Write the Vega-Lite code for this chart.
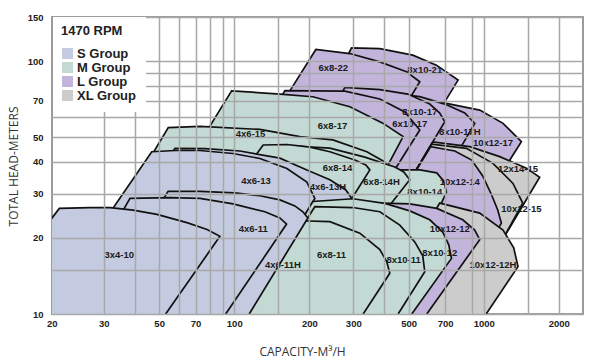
{
  "$schema": "https://vega.github.io/schema/vega-lite/v6.json",
  "width": 531,
  "height": 297,
  "autosize": {"type": "none"},
  "padding": {"left": 52, "top": 17, "right": 17, "bottom": 48},
  "background": "white",
  "config": {
    "view": {"stroke": "#9b9b9b", "strokeWidth": 2},
    "font": "Liberation Sans"
  },
  "datasets": {
    "shapes": [
      {"s":"8x10-21","g":"L Group","q":63.4,"h":10},{"s":"8x10-21","g":"L Group","q":288.0,"h":107.8},{"s":"8x10-21","g":"L Group","q":295.2,"h":113.2},{"s":"8x10-21","g":"L Group","q":383.3,"h":112.5},{"s":"8x10-21","g":"L Group","q":519.5,"h":105.9},{"s":"8x10-21","g":"L Group","q":646.5,"h":96.7},{"s":"8x10-21","g":"L Group","q":789.2,"h":84.4},{"s":"8x10-21","g":"L Group","q":698.0,"h":69.2},{"s":"8x10-21","g":"L Group","q":209.9,"h":10},
      {"s":"6x8-22","g":"L Group","q":45.8,"h":10},{"s":"6x8-22","g":"L Group","q":167.1,"h":76.5},{"s":"6x8-22","g":"L Group","q":212.4,"h":111.5},{"s":"6x8-22","g":"L Group","q":290.6,"h":107.5},{"s":"6x8-22","g":"L Group","q":383.3,"h":99.6},{"s":"6x8-22","g":"L Group","q":490.2,"h":91.0},{"s":"6x8-22","g":"L Group","q":554.2,"h":83.1},{"s":"6x8-22","g":"L Group","q":519.5,"h":74.7},{"s":"6x8-22","g":"L Group","q":152.9,"h":10},
      {"s":"10x12-17","g":"L Group","q":178.3,"h":10},{"s":"10x12-17","g":"L Group","q":580.3,"h":69.7},{"s":"10x12-17","g":"L Group","q":709.0,"h":68.2},{"s":"10x12-17","g":"L Group","q":963.9,"h":64.2},{"s":"10x12-17","g":"L Group","q":1195,"h":56.9},{"s":"10x12-17","g":"L Group","q":1416,"h":48.1},{"s":"10x12-17","g":"L Group","q":1310,"h":42.6},{"s":"10x12-17","g":"L Group","q":519.5,"h":10},
      {"s":"8x10-17H","g":"L Group","q":134.0,"h":10},{"s":"8x10-17H","g":"L Group","q":452.5,"h":74.3},{"s":"8x10-17H","g":"L Group","q":554.2,"h":72.6},{"s":"8x10-17H","g":"L Group","q":698.0,"h":67.8},{"s":"8x10-17H","g":"L Group","q":839.4,"h":62.5},{"s":"8x10-17H","g":"L Group","q":920.4,"h":56.9},{"s":"8x10-17H","g":"L Group","q":826.4,"h":47.4},{"s":"8x10-17H","g":"L Group","q":328.6,"h":10},
      {"s":"8x10-17","g":"L Group","q":79.2,"h":10},{"s":"8x10-17","g":"L Group","q":272.5,"h":76.3},{"s":"8x10-17","g":"L Group","q":277.6,"h":78.9},{"s":"8x10-17","g":"L Group","q":383.3,"h":77.4},{"s":"8x10-17","g":"L Group","q":496.1,"h":74.3},{"s":"8x10-17","g":"L Group","q":607.7,"h":67.8},{"s":"8x10-17","g":"L Group","q":666.5,"h":62.5},{"s":"8x10-17","g":"L Group","q":698.0,"h":57.7},{"s":"8x10-17","g":"L Group","q":571.3,"h":41.4},{"s":"8x10-17","g":"L Group","q":243.5,"h":10},
      {"s":"6x10-17","g":"L Group","q":46.3,"h":10},{"s":"6x10-17","g":"L Group","q":159.6,"h":76.7},{"s":"6x10-17","g":"L Group","q":277.6,"h":76.3},{"s":"6x10-17","g":"L Group","q":383.3,"h":71.0},{"s":"6x10-17","g":"L Group","q":482.6,"h":63.1},{"s":"6x10-17","g":"L Group","q":554.2,"h":53.5},{"s":"6x10-17","g":"L Group","q":460.9,"h":40.1},{"s":"6x10-17","g":"L Group","q":190.0,"h":10},
      {"s":"6x8-17","g":"M Group","q":27.5,"h":10},{"s":"6x8-17","g":"M Group","q":97.6,"h":76.5},{"s":"6x8-17","g":"M Group","q":152.4,"h":74.3},{"s":"6x8-17","g":"M Group","q":206.6,"h":72.5},{"s":"6x8-17","g":"M Group","q":290.6,"h":66.2},{"s":"6x8-17","g":"M Group","q":394.0,"h":57.0},{"s":"6x8-17","g":"M Group","q":475.1,"h":50.4},{"s":"6x8-17","g":"M Group","q":420.3,"h":40.1},{"s":"6x8-17","g":"M Group","q":198.8,"h":10},
      {"s":"4x6-15","g":"M Group","q":19.4,"h":10},{"s":"4x6-15","g":"M Group","q":54.4,"h":54.7},{"s":"4x6-15","g":"M Group","q":72.9,"h":55.3},{"s":"4x6-15","g":"M Group","q":126.7,"h":53.8},{"s":"4x6-15","g":"M Group","q":183.3,"h":50.4},{"s":"4x6-15","g":"M Group","q":248.5,"h":48.9},{"s":"4x6-15","g":"M Group","q":340.0,"h":43.9},{"s":"4x6-15","g":"M Group","q":401.4,"h":40.0},{"s":"4x6-15","g":"M Group","q":428.2,"h":36.5},{"s":"4x6-15","g":"M Group","q":194.8,"h":10},
      {"s":"12x14-15","g":"XL Group","q":243.5,"h":10},{"s":"12x14-15","g":"XL Group","q":624.8,"h":48.0},{"s":"12x14-15","g":"XL Group","q":878.9,"h":46.0},{"s":"12x14-15","g":"XL Group","q":1159,"h":42.0},{"s":"12x14-15","g":"XL Group","q":1483,"h":37.8},{"s":"12x14-15","g":"XL Group","q":1676,"h":34.8},{"s":"12x14-15","g":"XL Group","q":1233,"h":20.9},{"s":"12x14-15","g":"XL Group","q":790,"h":10},
      {"s":"10x12-15","g":"XL Group","q":241.7,"h":10},{"s":"10x12-15","g":"XL Group","q":619.0,"h":47.1},{"s":"10x12-15","g":"XL Group","q":852.6,"h":45.3},{"s":"10x12-15","g":"XL Group","q":1089,"h":39.5},{"s":"10x12-15","g":"XL Group","q":1310,"h":32.9},{"s":"10x12-15","g":"XL Group","q":1433,"h":27.5},{"s":"10x12-15","g":"XL Group","q":815.1,"h":10},
      {"s":"10x12-14","g":"L Group","q":239.5,"h":10},{"s":"10x12-14","g":"L Group","q":613.3,"h":46.0},{"s":"10x12-14","g":"L Group","q":765.5,"h":44.2},{"s":"10x12-14","g":"L Group","q":895.3,"h":40.7},{"s":"10x12-14","g":"L Group","q":990.8,"h":35.2},{"s":"10x12-14","g":"L Group","q":1076,"h":29.6},{"s":"10x12-14","g":"L Group","q":1138,"h":25.8},{"s":"10x12-14","g":"L Group","q":1177,"h":22.9},{"s":"10x12-14","g":"L Group","q":710.9,"h":10},
      {"s":"8x10-14","g":"M Group","q":197.7,"h":10},{"s":"8x10-14","g":"M Group","q":440.2,"h":37.2},{"s":"8x10-14","g":"M Group","q":554.2,"h":37.2},{"s":"8x10-14","g":"M Group","q":648.3,"h":36.2},{"s":"8x10-14","g":"M Group","q":691.6,"h":33.6},{"s":"8x10-14","g":"M Group","q":709.0,"h":30.4},{"s":"8x10-14","g":"M Group","q":666.5,"h":26.6},{"s":"8x10-14","g":"M Group","q":368.1,"h":10},
      {"s":"6x8-14H","g":"M Group","q":65.9,"h":10},{"s":"6x8-14H","g":"M Group","q":167.1,"h":46.3},{"s":"6x8-14H","g":"M Group","q":241.7,"h":45.4},{"s":"6x8-14H","g":"M Group","q":333.8,"h":41.8},{"s":"6x8-14H","g":"M Group","q":440.2,"h":38.2},{"s":"6x8-14H","g":"M Group","q":478.2,"h":36.5},{"s":"6x8-14H","g":"M Group","q":505.3,"h":34.0},{"s":"6x8-14H","g":"M Group","q":427.0,"h":27.5},{"s":"6x8-14H","g":"M Group","q":208.5,"h":10},
      {"s":"6x8-14","g":"M Group","q":40.5,"h":10},{"s":"6x8-14","g":"M Group","q":124.8,"h":43.9},{"s":"6x8-14","g":"M Group","q":130.6,"h":46.7},{"s":"6x8-14","g":"M Group","q":162.6,"h":46.9},{"s":"6x8-14","g":"M Group","q":201.0,"h":45.8},{"s":"6x8-14","g":"M Group","q":241.7,"h":43.9},{"s":"6x8-14","g":"M Group","q":304.3,"h":40.7},{"s":"6x8-14","g":"M Group","q":336.9,"h":38.9},{"s":"6x8-14","g":"M Group","q":349.6,"h":37.2},{"s":"6x8-14","g":"M Group","q":299.4,"h":29.2},{"s":"6x8-14","g":"M Group","q":152.1,"h":10},
      {"s":"4x6-13H","g":"S Group","q":20.2,"h":10},{"s":"4x6-13H","g":"S Group","q":57.9,"h":45.3},{"s":"4x6-13H","g":"S Group","q":76.3,"h":45.2},{"s":"4x6-13H","g":"S Group","q":105.4,"h":44.2},{"s":"4x6-13H","g":"S Group","q":152.4,"h":41.4},{"s":"4x6-13H","g":"S Group","q":195.5,"h":37.2},{"s":"4x6-13H","g":"S Group","q":241.7,"h":34.0},{"s":"4x6-13H","g":"S Group","q":280.1,"h":31.0},{"s":"4x6-13H","g":"S Group","q":298.8,"h":28.3},{"s":"4x6-13H","g":"S Group","q":158.7,"h":10},
      {"s":"4x6-13","g":"S Group","q":16.7,"h":10},{"s":"4x6-13","g":"S Group","q":46.7,"h":43.9},{"s":"4x6-13","g":"S Group","q":57.9,"h":44.4},{"s":"4x6-13","g":"S Group","q":72.9,"h":44.4},{"s":"4x6-13","g":"S Group","q":98.8,"h":43.2},{"s":"4x6-13","g":"S Group","q":126.7,"h":41.3},{"s":"4x6-13","g":"S Group","q":162.6,"h":37.7},{"s":"4x6-13","g":"S Group","q":195.5,"h":33.3},{"s":"4x6-13","g":"S Group","q":210.4,"h":28.7},{"s":"4x6-13","g":"S Group","q":110.8,"h":10},
      {"s":"10x12-12H","g":"XL Group","q":359.4,"h":10},{"s":"10x12-12H","g":"XL Group","q":666.5,"h":27.5},{"s":"10x12-12H","g":"XL Group","q":963.9,"h":25.1},{"s":"10x12-12H","g":"XL Group","q":1195,"h":21.5},{"s":"10x12-12H","g":"XL Group","q":1319,"h":18.3},{"s":"10x12-12H","g":"XL Group","q":1372,"h":15.4},{"s":"10x12-12H","g":"XL Group","q":1023,"h":10},
      {"s":"10x12-12","g":"L Group","q":213.2,"h":10},{"s":"10x12-12","g":"L Group","q":394.0,"h":27.5},{"s":"10x12-12","g":"L Group","q":505.3,"h":27.3},{"s":"10x12-12","g":"L Group","q":648.3,"h":26.2},{"s":"10x12-12","g":"L Group","q":824.1,"h":23.6},{"s":"10x12-12","g":"L Group","q":920.4,"h":21.5},{"s":"10x12-12","g":"L Group","q":963.9,"h":19.7},{"s":"10x12-12","g":"L Group","q":591.1,"h":10},
      {"s":"8x10-12","g":"M Group","q":110.6,"h":10},{"s":"8x10-12","g":"M Group","q":206.6,"h":27.9},{"s":"8x10-12","g":"M Group","q":298.8,"h":28.6},{"s":"8x10-12","g":"M Group","q":401.4,"h":27.4},{"s":"8x10-12","g":"M Group","q":505.3,"h":25.6},{"s":"8x10-12","g":"M Group","q":607.7,"h":23.6},{"s":"8x10-12","g":"M Group","q":685.2,"h":21.1},{"s":"8x10-12","g":"M Group","q":724.2,"h":18.8},{"s":"8x10-12","g":"M Group","q":742.4,"h":16.6},{"s":"8x10-12","g":"M Group","q":514.7,"h":10},
      {"s":"8x10-11","g":"M Group","q":112.4,"h":10},{"s":"8x10-11","g":"M Group","q":210.4,"h":26.6},{"s":"8x10-11","g":"M Group","q":298.8,"h":26.4},{"s":"8x10-11","g":"M Group","q":383.3,"h":25.4},{"s":"8x10-11","g":"M Group","q":460.9,"h":22.5},{"s":"8x10-11","g":"M Group","q":529.2,"h":19.3},{"s":"8x10-11","g":"M Group","q":569.7,"h":17.0},{"s":"8x10-11","g":"M Group","q":580.3,"h":14.7},{"s":"8x10-11","g":"M Group","q":453.8,"h":10},
      {"s":"6x8-11","g":"M Group","q":110.4,"h":10},{"s":"6x8-11","g":"M Group","q":183.3,"h":23.4},{"s":"6x8-11","g":"M Group","q":241.7,"h":23.2},{"s":"6x8-11","g":"M Group","q":318.7,"h":20.9},{"s":"6x8-11","g":"M Group","q":383.3,"h":18.0},{"s":"6x8-11","g":"M Group","q":408.8,"h":16.1},{"s":"6x8-11","g":"M Group","q":420.3,"h":14.5},{"s":"6x8-11","g":"M Group","q":328.6,"h":10},
      {"s":"4x6-11H","g":"S Group","q":27.5,"h":10},{"s":"4x6-11H","g":"S Group","q":54.3,"h":30.6},{"s":"4x6-11H","g":"S Group","q":72.9,"h":30.6},{"s":"4x6-11H","g":"S Group","q":100.6,"h":30.2},{"s":"4x6-11H","g":"S Group","q":126.7,"h":29.4},{"s":"4x6-11H","g":"S Group","q":152.4,"h":28.3},{"s":"4x6-11H","g":"S Group","q":175.0,"h":26.8},{"s":"4x6-11H","g":"S Group","q":188.4,"h":25.4},{"s":"4x6-11H","g":"S Group","q":197.3,"h":24.0},{"s":"4x6-11H","g":"S Group","q":114.8,"h":10},
      {"s":"4x6-11","g":"S Group","q":20.8,"h":10},{"s":"4x6-11","g":"S Group","q":38.2,"h":28.7},{"s":"4x6-11","g":"S Group","q":55.3,"h":28.9},{"s":"4x6-11","g":"S Group","q":72.9,"h":28.7},{"s":"4x6-11","g":"S Group","q":98.8,"h":27.3},{"s":"4x6-11","g":"S Group","q":132.7,"h":25.4},{"s":"4x6-11","g":"S Group","q":152.4,"h":24.0},{"s":"4x6-11","g":"S Group","q":162.1,"h":22.7},{"s":"4x6-11","g":"S Group","q":92.4,"h":10},
      {"s":"3x4-10","g":"S Group","q":18,"h":10},{"s":"3x4-10","g":"S Group","q":18.3,"h":23.5},{"s":"3x4-10","g":"S Group","q":19.9,"h":26.2},{"s":"3x4-10","g":"S Group","q":26.4,"h":26.4},{"s":"3x4-10","g":"S Group","q":31.8,"h":26.4},{"s":"3x4-10","g":"S Group","q":39.3,"h":25.8},{"s":"3x4-10","g":"S Group","q":49.0,"h":24.8},{"s":"3x4-10","g":"S Group","q":64.6,"h":23.0},{"s":"3x4-10","g":"S Group","q":77.8,"h":21.6},{"s":"3x4-10","g":"S Group","q":87.6,"h":20.3},{"s":"3x4-10","g":"S Group","q":53.1,"h":10}
    ],
    "labels": [
      {"s":"3x4-10","q":34.6,"h":17.2},
      {"s":"4x6-11","q":119.2,"h":21.7},
      {"s":"4x6-11H","q":156.7,"h":15.7},
      {"s":"4x6-13","q":122.2,"h":33.6},
      {"s":"4x6-13H","q":237.3,"h":31.8},
      {"s":"4x6-15","q":116.3,"h":51.5},
      {"s":"6x8-17","q":247.8,"h":55.3},
      {"s":"6x8-14","q":259.5,"h":37.8},
      {"s":"6x8-14H","q":389.4,"h":33.4},
      {"s":"8x10-14","q":580.3,"h":30.5},
      {"s":"6x8-11","q":245.5,"h":17.2},
      {"s":"8x10-11","q":477.4,"h":16.4},
      {"s":"8x10-12","q":666.5,"h":17.4},
      {"s":"10x12-12","q":730.9,"h":21.7},
      {"s":"10x12-12H","q":1089,"h":15.7},
      {"s":"10x12-14","q":801.6,"h":33.4},
      {"s":"10x12-15","q":1416,"h":26.0},
      {"s":"12x14-15","q":1372,"h":37.4},
      {"s":"10x12-17","q":1089,"h":47.7},
      {"s":"8x10-17H","q":801.6,"h":52.7},
      {"s":"6x10-17","q":505.3,"h":56.4},
      {"s":"8x10-17","q":554.2,"h":63.2},
      {"s":"6x8-22","q":249.2,"h":93.8},
      {"s":"8x10-21","q":580.3,"h":92.4}
    ]
  },
  "encoding": {
    "x": {
      "field": "q", "type": "quantitative",
      "scale": {"type": "log", "domain": [18.6, 2500], "nice": false},
      "axis": {
        "title": "CAPACITY-M³/H",
        "values": [20,30,40,50,60,70,80,90,100,150,200,300,400,500,700,900,1000,1500,2000],
        "labelExpr": "indexof([20,30,50,70,100,200,300,500,700,1000,2000], datum.value) >= 0 ? datum.value + '' : ''",
        "ticks": false, "domain": false,
        "labelFont": "Liberation Sans", "labelFontWeight": "bold", "labelFontSize": 9.5, "labelColor": "#222222",
        "labelPadding": 4, "labelOverlap": false, "labelFlush": false,
        "labelOffset": {"condition": {"test": "datum.value == 20", "value": -8}, "value": 0},
        "gridColor": "#a8a8a8", "gridWidth": 1.5,
        "gridOpacity": {"condition": {"test": "datum.value == 20", "value": 0}, "value": 1},
        "titleFont": "Open Sans", "titleFontSize": 12, "titleFontWeight": "normal", "titleColor": "#333333",
        "titleX": 250, "titleY": 37, "titleBaseline": "middle", "titleAlign": "center",
        "zindex": 1
      }
    },
    "y": {
      "field": "h", "type": "quantitative",
      "scale": {"type": "log", "domain": [10, 150], "nice": false},
      "axis": {
        "title": "TOTAL HEAD-METERS",
        "values": [10,15,20,30,40,50,60,70,80,90,100,150],
        "labelExpr": "indexof([10,20,30,40,50,70,100,150], datum.value) >= 0 ? datum.value + '' : ''",
        "ticks": false, "domain": false,
        "labelFont": "Liberation Sans", "labelFontWeight": "bold", "labelFontSize": 9.5, "labelColor": "#222222",
        "labelPadding": 9, "labelOverlap": false, "labelFlush": false,
        "gridColor": "#a8a8a8", "gridWidth": 1.5,
        "titleFont": "Open Sans", "titleFontSize": 12, "titleFontWeight": "normal", "titleColor": "#333333",
        "titleX": -39, "titleY": 149, "titleBaseline": "middle", "titleAlign": "center",
        "zindex": 1
      }
    }
  },
  "layer": [
    {
      "data": {"name": "shapes"},
      "mark": {"type": "line", "stroke": "#111111", "strokeWidth": 1.7, "strokeJoin": "miter", "clip": true},
      "encoding": {
        "fill": {
          "field": "g", "type": "nominal",
          "scale": {"domain": ["S Group", "M Group", "L Group", "XL Group"], "range": ["#c4cbe0", "#c3d9d3", "#c3b4dc", "#cccccc"]},
          "legend": {
            "orient": "none", "legendX": 1, "legendY": 0,
            "title": "1470 RPM", "titleFont": "Liberation Sans", "titleFontSize": 13, "titleFontWeight": "bold", "titleColor": "#222222", "titlePadding": 9,
            "labelFont": "Liberation Sans", "labelFontSize": 13, "labelFontWeight": "bold", "labelColor": "#222222", "labelOffset": 3,
            "symbolType": "square", "symbolSize": 121, "symbolStrokeWidth": 0, "symbolOpacity": 1,
            "rowPadding": 0, "padding": 8, "fillColor": "white", "strokeColor": "white", "zindex": 2
          }
        },
        "detail": {"field": "s"},
        "order": {"value": null}
      }
    },
    {
      "data": {"name": "labels"},
      "mark": {"type": "text", "font": "Liberation Sans", "fontWeight": "bold", "fontSize": 9.5, "color": "#1a1a1a"},
      "encoding": {
        "text": {"field": "s"}
      }
    }
  ]
}
